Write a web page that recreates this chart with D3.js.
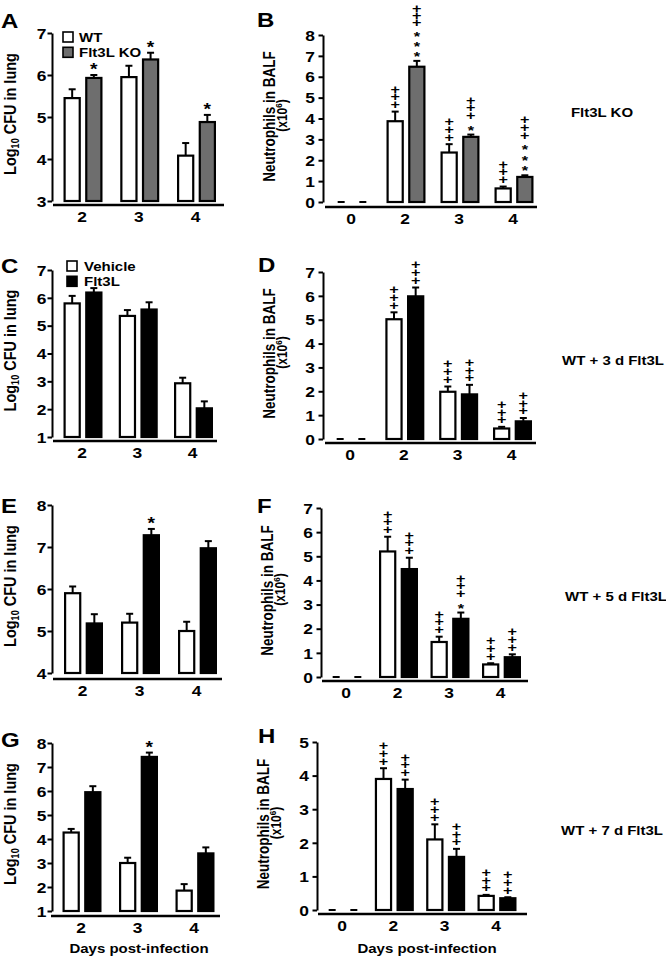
<!DOCTYPE html>
<html><head><meta charset="utf-8">
<script src="https://cdn.jsdelivr.net/npm/d3@7"></script>
<style>
body{margin:0;background:#fff}
svg{display:block}
text{font-family:"Liberation Sans",Arial,Helvetica,sans-serif;font-weight:bold;fill:#000}
</style>
</head><body>
<script>
// ---------------- DATA ----------------
const daysLeft = ["2", "3", "4"];
const daysRight = ["0", "2", "3", "4"];
const seriesKO = ["WT", "Flt3L KO"];
const seriesTx = ["Vehicle", "Flt3L"];

// Panel A: Log10 CFU in lung, WT vs Flt3L KO
const cfuA_WT = [5.45, 5.95, 4.08];
const cfuA_WT_sem = [0.21, 0.27, 0.30];
const cfuA_KO = [5.93, 6.37, 4.88];
const cfuA_KO_sem = [0.07, 0.16, 0.17];
const sigA_WT = ["", "", ""];
const sigA_KO = ["*", "*", "*"];
const ticksA = [3, 4, 5, 6, 7];

// Panel B: Neutrophils in BALF, WT vs Flt3L KO
const neuB_WT = [0, 3.87, 2.37, 0.65];
const neuB_WT_sem = [0, 0.46, 0.40, 0.09];
const neuB_KO = [0, 6.48, 3.12, 1.20];
const neuB_KO_sem = [0, 0.28, 0.11, 0.08];
const sigB_WT = ["", "+++", "+++", "+++"];
const sigB_KO = ["", "***+++", "*+++", "***+++"];
const ticksB = [0, 1, 2, 3, 4, 5, 6, 7, 8];

// Panel C: CFU, Vehicle vs Flt3L (3 d)
const cfuC_Veh = [5.80, 5.35, 2.93];
const cfuC_Veh_sem = [0.27, 0.21, 0.20];
const cfuC_Flt = [6.19, 5.58, 2.03];
const cfuC_Flt_sem = [0.16, 0.26, 0.25];
const sigC_Veh = ["", "", ""];
const sigC_Flt = ["", "", ""];
const ticksC = [1, 2, 3, 4, 5, 6, 7];

// Panel D: Neutrophils, Vehicle vs Flt3L (3 d)
const neuD_Veh = [0, 5.02, 1.98, 0.44];
const neuD_Veh_sem = [0, 0.29, 0.22, 0.07];
const neuD_Flt = [0, 5.98, 1.87, 0.74];
const neuD_Flt_sem = [0, 0.37, 0.40, 0.14];
const sigD_Veh = ["", "+++", "+++", "+++"];
const sigD_Flt = ["", "+++", "+++", "+++"];
const ticksD = [0, 1, 2, 3, 4, 5, 6, 7];

// Panel E: CFU, Vehicle vs Flt3L (5 d)
const cfuE_Veh = [5.90, 5.20, 5.00];
const cfuE_Veh_sem = [0.16, 0.21, 0.22];
const cfuE_Flt = [5.18, 7.28, 6.97];
const cfuE_Flt_sem = [0.22, 0.15, 0.17];
const sigE_Veh = ["", "", ""];
const sigE_Flt = ["", "*", ""];
const ticksE = [4, 5, 6, 7, 8];

// Panel F: Neutrophils, Vehicle vs Flt3L (5 d)
const neuF_Veh = [0, 5.20, 1.45, 0.52];
const neuF_Veh_sem = [0, 0.61, 0.22, 0.05];
const neuF_Flt = [0, 4.47, 2.41, 0.82];
const neuF_Flt_sem = [0, 0.47, 0.26, 0.12];
const sigF_Veh = ["", "+++", "+++", "+++"];
const sigF_Flt = ["", "+++", "*+++", "+++"];
const ticksF = [0, 1, 2, 3, 4, 5, 6, 7];

// Panel G: CFU, Vehicle vs Flt3L (7 d)
const cfuG_Veh = [4.27, 3.00, 1.85];
const cfuG_Veh_sem = [0.15, 0.22, 0.27];
const cfuG_Flt = [5.95, 7.42, 3.40];
const cfuG_Flt_sem = [0.25, 0.18, 0.25];
const sigG_Veh = ["", "", ""];
const sigG_Flt = ["", "*", ""];
const ticksG = [1, 2, 3, 4, 5, 6, 7, 8];

// Panel H: Neutrophils, Vehicle vs Flt3L (7 d)
const neuH_Veh = [0, 3.90, 2.10, 0.42];
const neuH_Veh_sem = [0, 0.32, 0.45, 0.03];
const neuH_Flt = [0, 3.60, 1.58, 0.35];
const neuH_Flt_sem = [0, 0.28, 0.24, 0.03];
const sigH_Veh = ["", "+++", "+++", "+++"];
const sigH_Flt = ["", "+++", "+++", "+++"];
const ticksH = [0, 1, 2, 3, 4, 5];

const rowLabels = ["Flt3L KO", "WT + 3 d Flt3L", "WT + 5 d Flt3L", "WT + 7 d Flt3L"];
const xTitle = "Days post-infection";

// ---------------- STYLE / LAYOUT ----------------
const W = 666, H = 956;
const SX = 1.2; // horizontal glyph stretch of the source figure
const colors = { WT: "#ffffff", "Flt3L KO": "#6e6e6e", Vehicle: "#ffffff", Flt3L: "#000000" };

const panels = [
  { id: "A", type: "cfu", cats: daysLeft, series: seriesKO, means: [cfuA_WT, cfuA_KO], sems: [cfuA_WT_sem, cfuA_KO_sem], sig: [sigA_WT, sigA_KO], ticks: ticksA, legend: true,
    L: { axisX: 52, yTop: 33, yBot: 201, lineY: 205, line: [53, 224], cats: [83, 196.5], letter: [1, 28], legend: [63, 32, 79] } },
  { id: "B", type: "neu", cats: daysRight, series: seriesKO, means: [neuB_WT, neuB_KO], sems: [neuB_WT_sem, neuB_KO_sem], sig: [sigB_WT, sigB_KO], ticks: ticksB,
    L: { axisX: 323, yTop: 35, yBot: 202, lineY: 207, line: [325, 537], cats: [352, 514], letter: [257, 27] } },
  { id: "C", type: "cfu", cats: daysLeft, series: seriesTx, means: [cfuC_Veh, cfuC_Flt], sems: [cfuC_Veh_sem, cfuC_Flt_sem], sig: [sigC_Veh, sigC_Flt], ticks: ticksC, legend: true,
    L: { axisX: 52, yTop: 270, yBot: 437, lineY: 441, line: [53, 217], cats: [83, 193.5], letter: [1, 273], legend: [67, 261, 84] } },
  { id: "D", type: "neu", cats: daysRight, series: seriesTx, means: [neuD_Veh, neuD_Flt], sems: [neuD_Veh_sem, neuD_Flt_sem], sig: [sigD_Veh, sigD_Flt], ticks: ticksD,
    L: { axisX: 323, yTop: 272, yBot: 439, lineY: 443, line: [325, 536], cats: [351, 512.5], letter: [258, 272] } },
  { id: "E", type: "cfu", cats: daysLeft, series: seriesTx, means: [cfuE_Veh, cfuE_Flt], sems: [cfuE_Veh_sem, cfuE_Flt_sem], sig: [sigE_Veh, sigE_Flt], ticks: ticksE,
    L: { axisX: 52, yTop: 505, yBot: 673, lineY: 679, line: [53, 222], cats: [83.5, 197.5], letter: [1, 513] } },
  { id: "F", type: "neu", cats: daysRight, series: seriesTx, means: [neuF_Veh, neuF_Flt], sems: [neuF_Veh_sem, neuF_Flt_sem], sig: [sigF_Veh, sigF_Flt], ticks: ticksF,
    L: { axisX: 321, yTop: 508, yBot: 677, lineY: 681, line: [322, 528], cats: [347, 501.5], letter: [257, 513] } },
  { id: "G", type: "cfu", cats: daysLeft, series: seriesTx, means: [cfuG_Veh, cfuG_Flt], sems: [cfuG_Veh_sem, cfuG_Flt_sem], sig: [sigG_Veh, sigG_Flt], ticks: ticksG, xTitle: true,
    L: { axisX: 52, yTop: 743, yBot: 911, lineY: 916, line: [51, 220], cats: [82, 195], letter: [1, 747], xTitle: [139, 953] } },
  { id: "H", type: "neu", cats: daysRight, series: seriesTx, means: [neuH_Veh, neuH_Flt], sems: [neuH_Veh_sem, neuH_Flt_sem], sig: [sigH_Veh, sigH_Flt], ticks: ticksH, xTitle: true,
    L: { axisX: 317, yTop: 742, yBot: 910, lineY: 914, line: [318, 527], cats: [343, 497], letter: [258, 743], xTitle: [427, 953] } }
];
const rowLabelPos = [[602, 117], [613, 365], [616, 601], [612, 835]];

// ---------------- DRAW ----------------
const svg = d3.select("body").append("svg").attr("width", W).attr("height", H).attr("viewBox", `0 0 ${W} ${H}`);
svg.append("rect").attr("width", W).attr("height", H).attr("fill", "#fff");

function stext(parent, x, y, str, size, anchor, rotate) {
  const t = parent.append("text")
    .attr("transform", `translate(${x},${y}) scale(${SX},1)` + (rotate ? " rotate(-90)" : ""))
    .attr("font-size", size)
    .attr("text-anchor", anchor || "start");
  if (str != null) t.text(str);
  return t;
}

// a stack of significance symbols (listed bottom-up) as ONE text element,
// each glyph placed with per-character x/y lists
function drawStack(g, sig, cx, firstCy) {
  const size = sig.length === 1 ? 16 : 13.5;
  const steps = [];
  let prev = null;
  for (const ch of sig) {
    steps.push(prev ? (prev === ch ? (ch === "*" ? 10.5 : 7.7) : 12) : 0);
    prev = ch;
  }
  const total = d3.sum(steps);
  // keep the top glyph (with its text box) inside the picture
  const topLimit = 13;
  const lastK = sig[sig.length - 1] === "*" ? 0.56 : 0.36;
  const topBase = firstCy - total + lastK * size;
  const f = topBase < topLimit ? Math.max(0.6, (firstCy + lastK * size - topLimit) / total) : 1;
  const xs = [], ys = [];
  let cy = 0;
  Array.from(sig).forEach((ch, i) => {
    cy -= steps[i] * f;
    const k = ch === "*" ? 0.56 : 0.36;
    xs.push(0);
    ys.push((cy + k * size).toFixed(2));
  });
  g.append("text")
    .attr("transform", `translate(${cx},${firstCy}) scale(${SX},1)`)
    .attr("text-anchor", "middle")
    .attr("font-size", size)
    .attr("x", xs.join(" "))
    .attr("y", ys.join(" "))
    .text(sig);
}

function drawPanel(p) {
  const L = p.L;
  const g = svg.append("g").attr("class", "panel-" + p.id);
  const y = d3.scaleLinear().domain([p.ticks[0], p.ticks[p.ticks.length - 1]]).range([L.yBot, L.yTop]);
  const x = d3.scalePoint().domain(p.cats).range(L.cats);
  const xs = d3.scaleBand().domain(p.series).range([-19.5, 19.5]).paddingInner(0.2);
  const bw = xs.bandwidth();
  const sw = 2.2;

  // y axis
  const ya = g.append("g").attr("transform", `translate(${L.axisX},0)`)
    .call(d3.axisLeft(y).tickValues(p.ticks).tickSize(4.5).tickSizeOuter(0).tickFormat(d3.format("d")));
  ya.attr("font-size", null).attr("font-family", null);
  ya.select(".domain").attr("stroke", "#000").attr("stroke-width", 2);
  ya.selectAll(".tick line").attr("stroke", "#000").attr("stroke-width", 2);
  const gap = p.type === "cfu" ? 5.5 : 8;
  ya.selectAll(".tick text")
    .attr("x", null).attr("dy", null)
    .attr("font-size", 14.5)
    .attr("text-anchor", "end")
    .attr("transform", `translate(${-gap},5.2) scale(${SX},1)`);

  // x axis line
  g.append("line").attr("x1", L.line[0]).attr("x2", L.line[1]).attr("y1", L.lineY).attr("y2", L.lineY)
    .attr("stroke", "#000").attr("stroke-width", 2.3);
  // x labels
  p.cats.forEach(c => stext(g, x(c) - 1, L.lineY + 16.5, c, 14.5, "middle"));

  // bars
  p.series.forEach((s, si) => {
    p.cats.forEach((c, ci) => {
      const m = p.means[si][ci], e = p.sems[si][ci];
      const cx = x(c) + xs(s) + bw / 2;
      const base = y(p.ticks[0]);
      if (m === 0) {
        g.append("line").attr("x1", cx - 3.5).attr("x2", cx + 3.5).attr("y1", base).attr("y2", base)
          .attr("stroke", "#000").attr("stroke-width", 2);
        return;
      }
      const yt = y(m + e);
      g.append("line").attr("x1", cx).attr("x2", cx).attr("y1", y(m)).attr("y2", yt)
        .attr("stroke", "#000").attr("stroke-width", 2);
      g.append("line").attr("x1", cx - 3.5).attr("x2", cx + 3.5).attr("y1", yt).attr("y2", yt)
        .attr("stroke", "#000").attr("stroke-width", 2);
      g.append("rect")
        .attr("x", x(c) + xs(s) + sw / 2).attr("width", bw - sw)
        .attr("y", y(m)).attr("height", base - y(m))
        .attr("fill", colors[s]).attr("stroke", "#000").attr("stroke-width", sw);
      const sig = p.sig[si][ci];
      if (sig) drawStack(g, sig, cx, yt - (p.type === "cfu" ? 9 : 7.5));
    });
  });

  // y title
  const yc = (L.yTop + L.yBot) / 2;
  if (p.type === "cfu") {
    const t = stext(g, 15.5, yc - 3, null, 14.5, "middle", true);
    t.append("tspan").text("Log");
    t.append("tspan").attr("font-size", 9).attr("dy", 3).text("10");
    t.append("tspan").attr("dy", -3).text(" CFU in lung");
  } else {
    stext(g, L.axisX - 48, yc - 2, "Neutrophils in BALF", 13.5, "middle", true);
    const t2 = stext(g, L.axisX - 36.5, yc - 3, null, 12, "middle", true);
    t2.append("tspan").text("(x10");
    t2.append("tspan").attr("font-size", 8).attr("dy", -4).text("6");
    t2.append("tspan").attr("dy", 4).text(")");
  }

  // panel letter
  stext(g, L.letter[0], L.letter[1], p.id, 20, "start");

  // legend
  if (p.legend) {
    const [lx, ly, tx] = L.legend;
    p.series.forEach((s, si) => {
      g.append("rect").attr("x", lx).attr("y", ly + si * 15.3).attr("width", 10).attr("height", 10)
        .attr("fill", colors[s]).attr("stroke", "#000").attr("stroke-width", 1.6);
      stext(g, tx, ly + si * 15.3 + 10, s, 12.5, "start");
    });
  }

  if (p.xTitle) stext(g, L.xTitle[0], L.xTitle[1], xTitle, 12.5, "middle");
}

panels.forEach(drawPanel);
rowLabels.forEach((t, i) => stext(svg, rowLabelPos[i][0], rowLabelPos[i][1], t, 12.5, "middle"));
</script>
</body></html>
